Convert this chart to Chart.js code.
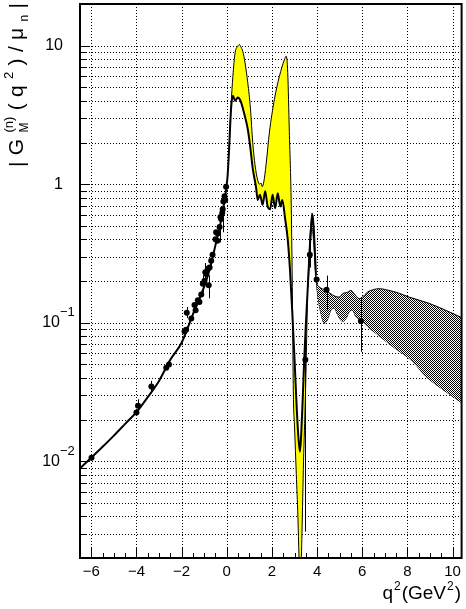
<!DOCTYPE html>
<html>
<head>
<meta charset="utf-8">
<script src="https://cdn.jsdelivr.net/npm/chart.js@4.4.0/dist/chart.umd.min.js"></script>
<style>
  body { margin: 0; background: #fff; }
</style>
</head>
<body>
<canvas id="grafico" width="466" height="609"></canvas>
<script>
// theory curve (black line), spacelike + timelike
const curveX = [-6.5, -6, -5.5, -5, -4.5, -4, -3.5, -3, -2.5, -2, -1.5, -1, -0.75, -0.5, -0.25, -0.1, 0,
  0.04, 0.1, 0.19, 0.27, 0.37, 0.49, 0.61, 0.78, 0.93, 1.05, 1.15, 1.3, 1.37, 1.47, 1.59, 1.7, 1.81, 1.92,
  2.03, 2.14, 2.26, 2.37, 2.46, 2.58, 2.7, 2.8, 2.9, 3.0, 3.08, 3.16, 3.24, 3.3, 3.37, 3.43, 3.5, 3.58,
  3.66, 3.73, 3.8, 3.87, 3.95];
const curveY = [0.00887, 0.0106, 0.0127, 0.0153, 0.0186, 0.0226, 0.029, 0.038, 0.054, 0.0716, 0.115, 0.182,
  0.245, 0.363, 0.55, 0.76, 1.0,
  1.17, 1.75, 3.5, 4.35, 4.0, 4.23, 4.0, 3.2, 2.5, 1.8, 1.3, 0.94, 0.77, 0.84, 0.71, 0.89, 0.69, 0.66,
  0.84, 0.67, 0.86, 0.69, 0.77, 0.57, 0.40, 0.24, 0.12, 0.055, 0.028, 0.016, 0.0117, 0.016, 0.03, 0.054,
  0.095, 0.17, 0.31, 0.48, 0.60, 0.42, 0.22];

// upper edge of the yellow band
const bandX = [0.1, 0.19, 0.27, 0.37, 0.49, 0.56, 0.61, 0.71, 0.81, 0.93, 1.05, 1.15, 1.25, 1.37, 1.45, 1.52,
  1.57, 1.64, 1.74, 1.89, 2.11, 2.33, 2.55, 2.63, 2.7, 2.77, 2.85, 2.9, 2.95, 3.0, 3.08, 3.15, 3.2, 3.24,
  3.28, 3.33, 3.4, 3.48, 3.58];
const bandY = [1.75, 3.7, 6.0, 8.9, 9.9, 10.2, 9.9, 9.1, 7.5, 5.4, 3.5, 2.0, 1.38, 1.07, 1.0, 1.02,
  0.96, 1.04, 1.38, 2.38, 4.1, 6.0, 7.9, 8.4, 6.4, 2.4, 0.79, 0.2, 0.03, 0.018, 0.008, 0.004, 0.002, 0.0012,
  0.0015, 0.003, 0.01, 0.028, 0.17];

// hatched band, upper and lower edge
const hatchTopX = [3.6, 3.7, 3.78, 3.86, 3.95, 4.1, 4.25, 4.4, 4.7, 4.98, 5.13, 5.35, 5.5, 5.64, 5.87, 6.01,
  6.23, 6.53, 6.75, 7.19, 7.6, 8.08, 8.96, 9.84, 10.5];
const hatchTopY = [0.2, 0.45, 0.62, 0.45, 0.21, 0.181, 0.175, 0.171, 0.158, 0.153, 0.162, 0.166, 0.171, 0.162,
  0.149, 0.153, 0.166, 0.174, 0.176, 0.171, 0.164, 0.153, 0.138, 0.12, 0.107];
const hatchBotX = [3.6, 3.7, 3.78, 3.86, 3.95, 4.02, 4.17, 4.32, 4.46, 4.61, 4.76, 4.91, 5.13, 5.28, 5.42,
  5.57, 5.72, 5.94, 6.23, 6.6, 7.34, 8.22, 8.81, 9.55, 10.5];
const hatchBotY = [0.18, 0.38, 0.48, 0.36, 0.21, 0.162, 0.117, 0.099, 0.105, 0.123, 0.127, 0.114, 0.102, 0.107,
  0.12, 0.123, 0.11, 0.105, 0.094, 0.084, 0.0674, 0.0527, 0.0411, 0.0331, 0.0258];

// measured points with error bars (null = bar hidden by the marker)
const pointX = [-5.99, -4.0, -3.93, -3.34, -2.68, -2.56, -1.87, -1.8, -1.77, -1.57, -1.43, -1.38, -1.28, -1.21,
  -1.13, -1.06, -0.99, -0.95, -0.91, -0.84, -0.8, -0.76, -0.69, -0.63, -0.5, -0.47, -0.42, -0.4, -0.32, -0.28,
  -0.25, -0.2, -0.18, -0.15, -0.1, -0.07, -0.03, 3.48, 3.68, 3.98, 4.42, 5.94];
const pointY = [0.0106, 0.0225, 0.0251, 0.0346, 0.0472, 0.0499, 0.0862, 0.089, 0.118, 0.107, 0.134, 0.123, 0.145,
  0.141, 0.16, 0.191, 0.2, 0.231, 0.225, 0.245, 0.186, 0.25, 0.28, 0.31, 0.40, 0.45, 0.39, 0.44, 0.49, 0.58,
  0.56, 0.62, 0.66, 0.75, 0.82, 0.77, 0.96, 0.054, 0.31, 0.205, 0.173, 0.103];
const pointLo = [null, null, 0.0228, 0.031, null, null, null, null, 0.108, null, null, null, null,
  null, null, 0.165, null, 0.2, null, null, 0.15, null, null, null, null, null, null, null, 0.38, null,
  null, null, 0.45, null, null, null, null, 0.0031, 0.25, null, 0.123, 0.0617];
const pointHi = [null, null, 0.028, 0.038, null, null, null, null, 0.13, null, null, null, null,
  null, null, 0.22, null, 0.27, null, null, 0.22, null, null, null, null, null, null, null, 0.6, null,
  null, null, 0.8, null, null, null, null, 0.08, 0.38, null, 0.219, 0.153];

// axes
const xTicks = [-6, -4, -2, 0, 2, 4, 6, 8, 10];
const yDecades = [0.01, 0.1, 1, 10];
const yLabels = [["10", "\u22122"], ["10", "\u22121"], ["1", ""], ["10", ""]];

const FONT = '"Liberation Sans", Arial, sans-serif';

function pairs(xs, ys) {
  return xs.map((x, i) => ({x: x, y: ys[i]}));
}

function checker(ctx) {
  const c = document.createElement("canvas");
  c.width = 2;
  c.height = 2;
  const g = c.getContext("2d");
  g.fillStyle = "#fff";
  g.fillRect(0, 0, 2, 2);
  g.fillStyle = "#000";
  g.fillRect(0, 0, 1, 1);
  g.fillRect(1, 1, 1, 1);
  return ctx.createPattern(c, "repeat");
}

function drawPieces(ctx, pieces, gap) {
  let cx = 0;
  pieces.forEach((p) => {
    ctx.font = p.size + "px " + FONT;
    ctx.fillText(p.t, cx, p.dy);
    if (!p.stay) cx += ctx.measureText(p.t).width + gap;
  });
}

function piecesWidth(ctx, pieces) {
  let w = 0;
  pieces.forEach((p) => {
    ctx.font = p.size + "px " + FONT;
    if (!p.stay) w += ctx.measureText(p.t).width;
  });
  return w;
}

const decor = {
  id: "decor",
  beforeDatasetsDraw(chart) {
    const {ctx, chartArea: a, scales: {x, y}} = chart;
    ctx.save();
    ctx.strokeStyle = "#000";
    ctx.lineWidth = 1;
    ctx.setLineDash([1, 2]);
    ctx.beginPath();
    xTicks.forEach((v) => {
      const px = Math.round(x.getPixelForValue(v)) + 0.5;
      ctx.moveTo(px, a.top);
      ctx.lineTo(px, a.bottom);
    });
    for (let d = 0.001; d < 100; d *= 10) {
      for (let m = 1; m <= 9; m++) {
        const v = d * m;
        if (v <= y.min || v >= y.max) continue;
        const py = Math.round(y.getPixelForValue(v)) + 0.5;
        ctx.moveTo(a.left, py);
        ctx.lineTo(a.right, py);
      }
    }
    ctx.stroke();
    ctx.restore();
  },
  afterDatasetsDraw(chart) {
    const {ctx, chartArea: a, scales: {x, y}} = chart;
    ctx.save();
    // error bars
    ctx.strokeStyle = "#000";
    ctx.lineWidth = 1;
    ctx.beginPath();
    pointX.forEach((v, i) => {
      if (pointLo[i] == null) return;
      const px = Math.round(x.getPixelForValue(v)) + 0.5;
      ctx.moveTo(px, Math.min(y.getPixelForValue(pointLo[i]), a.bottom));
      ctx.lineTo(px, y.getPixelForValue(pointHi[i]));
    });
    ctx.stroke();
    // tick marks
    ctx.beginPath();
    for (let d = 0.001; d < 100; d *= 10) {
      for (let m = 1; m <= 9; m++) {
        const v = d * m;
        if (v <= y.min || v >= y.max) continue;
        const py = Math.round(y.getPixelForValue(v)) + 0.5;
        ctx.moveTo(a.left, py);
        ctx.lineTo(a.left + (m === 1 ? 10 : 6), py);
      }
    }
    for (let k = Math.ceil(x.min * 2); k <= Math.floor(x.max * 2); k++) {
      const v = k / 2;
      const px = Math.round(x.getPixelForValue(v)) + 0.5;
      ctx.moveTo(px, a.bottom);
      ctx.lineTo(px, a.bottom - (xTicks.includes(v) ? 11 : 5));
    }
    ctx.stroke();
    // frame
    ctx.lineWidth = 2;
    ctx.strokeRect(a.left, a.top, a.right - a.left, a.bottom - a.top);
    ctx.restore();
  },
  afterDraw(chart) {
    const {ctx, scales: {y}} = chart;
    ctx.save();
    ctx.fillStyle = "#000";
    ctx.textBaseline = "middle";
    // y tick labels
    yDecades.forEach((v, i) => {
      const py = y.getPixelForValue(v);
      const [base, exp] = yLabels[i];
      ctx.font = "16px " + FONT;
      if (exp) {
        ctx.textAlign = "right";
        ctx.fillText(base, 60, py);
        ctx.textAlign = "left";
        ctx.font = "13px " + FONT;
        ctx.fillText(exp, 60, py - 10);
      } else {
        ctx.textAlign = "right";
        ctx.fillText(base, 63, py);
      }
    });
    // x title
    ctx.textAlign = "left";
    ctx.textBaseline = "alphabetic";
    const xt = [
      {t: "q", size: 19, dy: 0}, {t: "2", size: 12, dy: -9}, {t: "(GeV", size: 19, dy: 0},
      {t: "2", size: 12, dy: -9}, {t: ")", size: 19, dy: 0}
    ];
    ctx.save();
    ctx.translate(461 - piecesWidth(ctx, xt) - 4, 599);
    drawPieces(ctx, xt, 1);
    ctx.restore();
    // y title
    const yt = [
      {t: "|", size: 21, dy: 1}, {t: "G", size: 21, dy: 0}, {t: "M", size: 12, dy: 5, stay: true},
      {t: "(n)", size: 13, dy: -10}, {t: "(", size: 21, dy: 0}, {t: "q", size: 21, dy: 0},
      {t: "2", size: 13, dy: -10}, {t: ")", size: 21, dy: 0}, {t: "/", size: 21, dy: 0},
      {t: "\u03bc", size: 21, dy: 0}, {t: "n", size: 12, dy: 5}, {t: "|", size: 21, dy: 1}
    ];
    const gap = (164 - piecesWidth(ctx, yt)) / 10;
    ctx.translate(23, 167);
    ctx.rotate(-Math.PI / 2);
    drawPieces(ctx, yt, gap);
    ctx.restore();
  }
};

function generateChart() {
  const canvas = document.getElementById("grafico");
  const hatch = checker(canvas.getContext("2d"));
  const line = {pointRadius: 0, cubicInterpolationMode: "monotone", borderColor: "#000"};
  const config = {
    type: "line",
    data: {
      datasets: [
        {data: pairs(pointX, pointY), showLine: false, pointRadius: 3, pointBorderWidth: 0,
          pointBackgroundColor: "#000", order: 0},
        {...line, data: pairs(curveX, curveY), borderWidth: 2, fill: false, order: 1},
        {...line, data: pairs(hatchTopX, hatchTopY), borderWidth: 1, fill: 3, backgroundColor: hatch, order: 2},
        {...line, data: pairs(hatchBotX, hatchBotY), borderWidth: 1, fill: false, order: 2},
        {...line, data: pairs(bandX, bandY), borderWidth: 1, fill: 1, backgroundColor: "#ffff00", order: 3},
      ],
    },
    options: {
      responsive: false,
      animation: false,
      events: [],
      layout: {padding: {left: 80, right: 4, top: 1, bottom: 0}},
      plugins: {legend: {display: false}, tooltip: {enabled: false}},
      scales: {
        x: {
          type: "linear",
          min: -6.5,
          max: 10.4,
          afterFit: (scale) => { scale.height = 51; },
          grid: {display: false, drawTicks: false},
          border: {display: false},
          ticks: {
            stepSize: 2,
            includeBounds: false,
            autoSkip: false,
            maxRotation: 0,
            padding: 5,
            color: "#000",
            font: {family: FONT, size: 15},
            callback: (v) => (v < 0 ? "\u2212" + Math.abs(v) : String(v)),
          },
        },
        y: {
          type: "logarithmic",
          min: 0.002,
          max: 20,
          display: false,
        },
      },
    },
    plugins: [decor],
  };
  new Chart(canvas, config);
}
generateChart();
</script>
</body>
</html>
